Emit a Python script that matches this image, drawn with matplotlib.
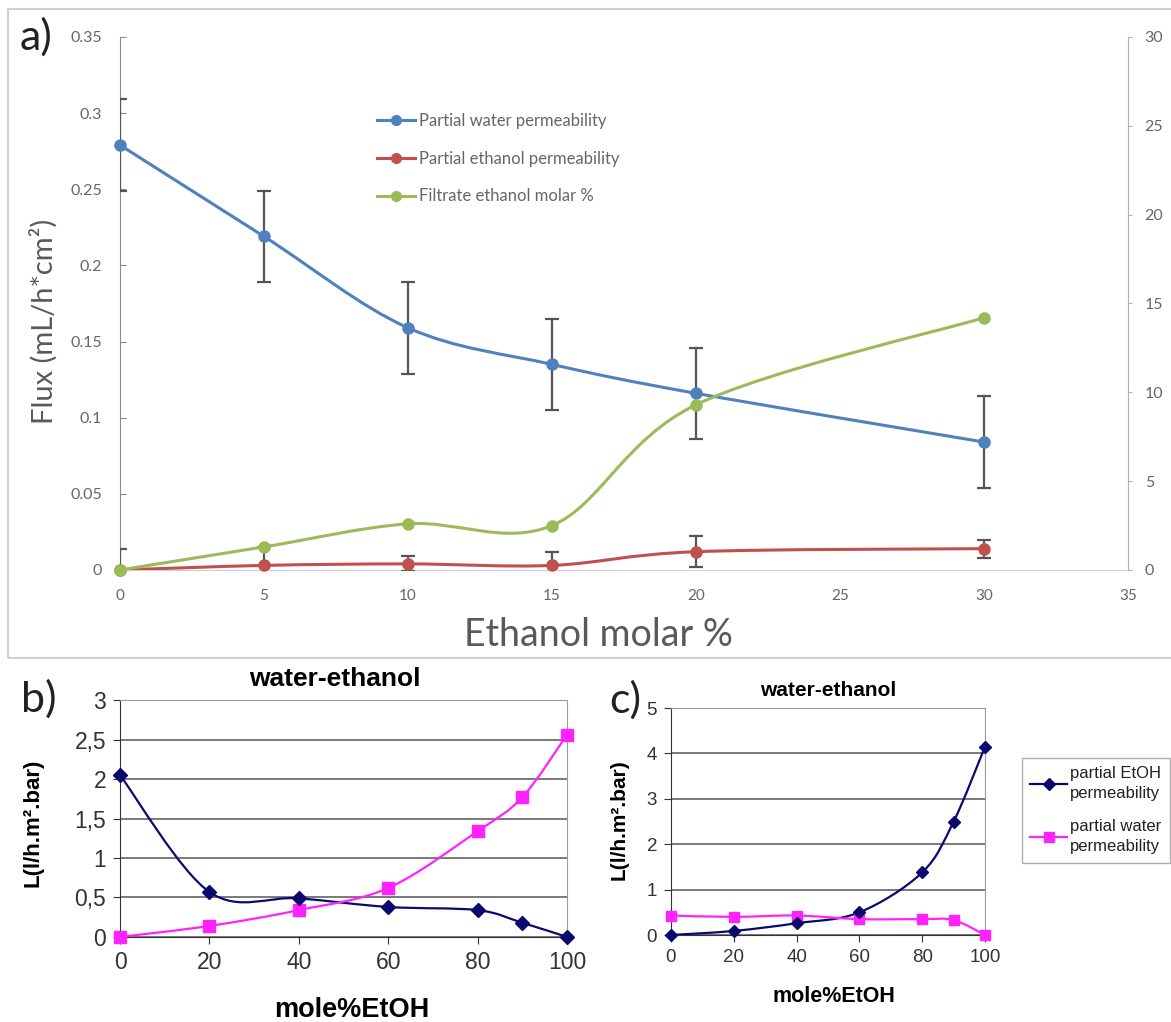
import numpy as np
import matplotlib
matplotlib.use('Agg')
import matplotlib.pyplot as plt
from matplotlib.path import Path
from matplotlib.patches import PathPatch, Rectangle
from matplotlib.lines import Line2D
from matplotlib.ticker import FuncFormatter, MultipleLocator

# a) flux vs feed ethanol content
conc = [0, 5, 10, 15, 20, 30]
water_flux = [0.279, 0.219, 0.159, 0.135, 0.116, 0.084]
water_err = [0.030, 0.030, 0.030, 0.030, 0.030, 0.030]
ethanol_flux = [0.0, 0.003, 0.004, 0.003, 0.012, 0.014]
ethanol_err = [0.014, 0.012, 0.005, 0.009, 0.010, 0.006]
filtrate_pct = [0.0, 1.3, 2.6, 2.5, 9.3, 14.2]

# b) and c) permeability vs mole% EtOH
mole = [0, 20, 40, 60, 80, 90, 100]
etoh_b = [2.05, 0.57, 0.49, 0.38, 0.34, 0.18, 0.0]
water_b = [0.0, 0.14, 0.34, 0.62, 1.34, 1.77, 2.56]
etoh_c = [0.0, 0.09, 0.26, 0.50, 1.38, 2.50, 4.15]
water_c = [0.43, 0.40, 0.43, 0.35, 0.35, 0.33, 0.0]

BLUE, RED, GREEN = '#4f81bd', '#c0504d', '#9bbb59'
NAVY, MAGENTA = '#0a0a6e', '#ff22ff'
LATO = ['Lato', 'DejaVu Sans']
ARIAL = ['Liberation Sans', 'DejaVu Sans']


def smooth(ax, x, y, color, lw, zorder=2):
    # Catmull-Rom style bezier through the points (smoothed spreadsheet line)
    pts = np.column_stack([np.asarray(x, float), np.asarray(y, float)])
    n = len(pts)
    verts = [pts[0]]
    codes = [Path.MOVETO]
    for i in range(n - 1):
        p0 = pts[max(i - 1, 0)]
        p1 = pts[i]
        p2 = pts[i + 1]
        p3 = pts[min(i + 2, n - 1)]
        verts += [p1 + (p2 - p0) / 6, p2 - (p3 - p1) / 6, p2]
        codes += [Path.CURVE4] * 3
    ax.add_patch(PathPatch(Path(np.array(verts), codes), fill=False, edgecolor=color,
                           lw=lw, zorder=zorder, capstyle='round'))


fig = plt.figure(figsize=(11.71, 10.22), dpi=100)
plt.rcParams['font.family'] = LATO

# frame around panel a
fig.patches.append(Rectangle((0.007, 0.356), 1.2, 0.635, transform=fig.transFigure,
                             fill=False, edgecolor='#d0d0d0', lw=1.5))

# ---------------- panel a ----------------
ax1 = fig.add_axes([0.1025, 0.4423, 0.8608, 0.5215])
ax2 = ax1.twinx()

ax1.errorbar(conc, water_flux, yerr=water_err, fmt='none', ecolor='#555555',
             elinewidth=1.6, capsize=5, capthick=1.6, zorder=3)
ax1.errorbar(conc, ethanol_flux, yerr=ethanol_err, fmt='none', ecolor='#555555',
             elinewidth=1.6, capsize=5, capthick=1.6, zorder=3)
smooth(ax1, conc, water_flux, BLUE, 2.2, zorder=4)
smooth(ax1, conc, ethanol_flux, RED, 2.2, zorder=4)
ax1.plot(conc, water_flux, 'o', color=BLUE, ms=8, zorder=5, clip_on=False)
ax1.plot(conc, ethanol_flux, 'o', color=RED, ms=8, zorder=5, clip_on=False)
smooth(ax2, conc, filtrate_pct, GREEN, 2.2, zorder=4)
ax2.plot(conc, filtrate_pct, 'o', color=GREEN, ms=8, zorder=5, clip_on=False)

ax1.set_xlim(0, 35)
ax1.set_ylim(0, 0.35)
ax2.set_ylim(0, 30)
ax1.xaxis.set_major_locator(MultipleLocator(5))
ax1.yaxis.set_major_locator(MultipleLocator(0.05))
ax2.yaxis.set_major_locator(MultipleLocator(5))
gfmt = FuncFormatter(lambda v, p: '{:g}'.format(round(v, 3)))
for a in (ax1, ax2):
    a.xaxis.set_major_formatter(gfmt)
    a.yaxis.set_major_formatter(gfmt)
    a.patch.set_visible(False)
    for s in a.spines.values():
        s.set_visible(False)
ax1.spines['left'].set_visible(True)
ax1.spines['left'].set_color('#8c8c8c')
ax1.spines['bottom'].set_visible(True)
ax1.spines['bottom'].set_color('#cfcfcf')
ax2.spines['right'].set_visible(True)
ax2.spines['right'].set_color('#b0b0b0')
ax1.tick_params(axis='y', direction='in', length=4, color='#8c8c8c',
                labelsize=11.5, labelcolor='#666666', pad=13)
ax1.tick_params(axis='x', length=0, labelsize=11, labelcolor='#666666', pad=14)
ax2.tick_params(axis='y', direction='out', length=3, color='#b0b0b0',
                labelsize=11.5, labelcolor='#666666', pad=9)

ax1.set_ylabel('Flux (mL/h*cm²)', fontsize=21, color='#595959', va='center')
ax1.yaxis.set_label_coords(-0.0754, 0.467)
ax1.set_xlabel('Ethanol molar %', fontsize=27, color='#595959', va='center')
ax1.xaxis.set_label_coords(0.475, -0.122)

handles = [Line2D([], [], color=c, marker='o', ms=7, lw=2.2) for c in (BLUE, RED, GREEN)]
ax1.legend(handles, ['Partial water permeability', 'Partial ethanol permeability',
                     'Filtrate ethanol molar %'],
           loc='upper left', bbox_to_anchor=(0.309, 0.904), bbox_transform=fig.transFigure,
           frameon=False, fontsize=12, labelcolor='#666666', handlelength=2.3,
           handletextpad=0.25, labelspacing=1.3)

fig.text(0.031, 0.964, 'a)', fontsize=31, color='#222222', ha='center', va='center')


# ---------------- panels b and c ----------------
def perm_panel(rect, etoh, water, ymax, ystep, fs, ms_d, ms_s):
    ax = fig.add_axes(rect)
    ax.set_axisbelow(True)
    ax.grid(axis='y', color='#555555', lw=1.1)
    smooth(ax, mole, etoh, NAVY, 1.6, zorder=3)
    smooth(ax, mole, water, MAGENTA, 1.6, zorder=3)
    ax.plot(mole, etoh, 'D', color=NAVY, ms=ms_d, zorder=5, clip_on=False)
    ax.plot(mole, water, 's', color=MAGENTA, ms=ms_s, zorder=4, clip_on=False)
    ax.set_xlim(0, 100)
    ax.set_ylim(0, ymax)
    ax.xaxis.set_major_locator(MultipleLocator(20))
    ax.yaxis.set_major_locator(MultipleLocator(ystep))
    ax.yaxis.set_major_formatter(
        FuncFormatter(lambda v, p: '{:g}'.format(round(v, 2)).replace('.', ',')))
    for s in ('top', 'right'):
        ax.spines[s].set_color('#9a9a9a')
    for s in ('left', 'bottom'):
        ax.spines[s].set_color('#333333')
    ax.tick_params(length=5, color='#333333', labelsize=fs, labelcolor='#333333', pad=5)
    for t in ax.get_xticklabels() + ax.get_yticklabels():
        t.set_family(ARIAL)
    return ax


axb = perm_panel([0.1025, 0.0832, 0.3817, 0.2318], etoh_b, water_b, 3, 0.5, 16.5, 7, 8)
axb.set_title('water-ethanol', family=ARIAL, fontweight='bold', fontsize=19,
              x=0.481, pad=10)
axb.set_xlabel('mole%EtOH', family=ARIAL, fontweight='bold', fontsize=19.5, va='center')
axb.xaxis.set_label_coords(0.519, -0.308)
axb.set_ylabel('L(l/h.m².bar)', family=ARIAL, fontweight='bold', fontsize=16, va='center')
axb.yaxis.set_label_coords(-0.195, 0.48)
fig.text(0.033, 0.316, 'b)', fontsize=31, color='#222222', ha='center', va='center')

axc = perm_panel([0.5730, 0.0851, 0.2682, 0.2221], etoh_c, water_c, 5, 1, 13.5, 6, 7)
axc.set_title('water-ethanol', family=ARIAL, fontweight='bold', fontsize=15, pad=9)
axc.set_xlabel('mole%EtOH', family=ARIAL, fontweight='bold', fontsize=15.5, va='center')
axc.xaxis.set_label_coords(0.519, -0.273)
axc.set_ylabel('L(l/h.m².bar)', family=ARIAL, fontweight='bold', fontsize=15, va='center')
axc.yaxis.set_label_coords(-0.166, 0.507)
fig.text(0.534, 0.315, 'c)', fontsize=31, color='#222222', ha='center', va='center')

# legend box runs past the right edge of the figure; labels stay inside
hc = [Line2D([], [], color=NAVY, marker='D', ms=6, lw=1.6),
      Line2D([], [], color=MAGENTA, marker='s', ms=6.5, lw=1.6)]
leg = axc.legend(hc, ['partial EtOH\npermeability', 'partial water\npermeability'],
                 loc='upper left', bbox_to_anchor=(1022 / 1171, 1 - 758 / 1022),
                 bbox_transform=fig.transFigure, borderaxespad=0, fancybox=False,
                 edgecolor='#9a9a9a', handlelength=2.2, handletextpad=0.2,
                 borderpad=0.5, labelspacing=1.1,
                 prop={'family': ARIAL, 'size': 12})
leg.get_frame().set_linewidth(1)
leg.get_frame().set_width(300)
for t in leg.get_texts():
    t.set_linespacing(1.4)
    t.set_color('#222222')

fig.savefig('out.png', dpi=100)
